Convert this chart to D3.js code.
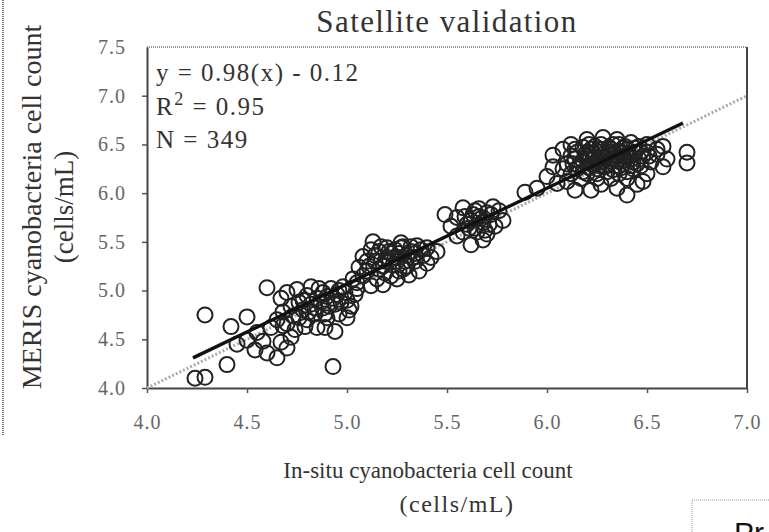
<!DOCTYPE html>
<html>
<head>
<meta charset="utf-8">
<script src="https://cdn.jsdelivr.net/npm/d3@7"></script>
<style>
	body { margin: 0; background: #fff; }
	text { font-family: "Liberation Serif", "Times New Roman", serif; }
</style>
</head>
<body>
<div id="chart"></div>
<script>
// Tick values
const xTicks = [4.0, 4.5, 5.0, 5.5, 6.0, 6.5, 7.0];
const yTicks = [4.0, 4.5, 5.0, 5.5, 6.0, 6.5, 7.0, 7.5];

// Points, one array per cluster: [in-situ, MERIS]
const lowCluster = [
	[4.29, 4.75], [4.24, 4.10], [4.29, 4.11], [4.40, 4.24], [4.42, 4.63], [4.50, 4.73],
	[4.60, 5.03], [4.67, 4.92], [4.67, 4.47], [4.70, 4.41], [4.60, 4.36], [4.65, 4.31],
	[4.54, 4.39], [4.50, 4.49], [4.93, 4.22], [4.79, 4.63], [4.89, 4.62], [4.94, 4.58],
	[5.01, 4.80], [4.75, 5.01], [4.76, 4.88], [4.45, 4.45], [4.55, 4.57], [4.58, 4.48],
	[4.62, 4.62], [4.65, 4.70], [4.68, 4.78], [4.70, 4.66], [4.72, 4.84], [4.74, 4.60],
	[4.76, 4.72], [4.78, 4.80], [4.80, 4.70], [4.80, 4.95], [4.82, 4.86], [4.84, 4.76],
	[4.85, 4.92], [4.86, 5.02], [4.88, 4.82], [4.90, 4.94], [4.90, 4.72], [4.92, 5.02],
	[4.94, 4.86], [4.95, 4.96], [4.96, 4.76], [4.98, 5.04], [5.00, 4.90], [5.00, 4.72],
	[5.02, 4.84], [5.04, 4.96], [4.72, 4.52], [4.85, 4.62], [4.82, 5.04], [4.70, 4.98],
	[5.05, 5.08], [4.88, 4.98], [4.84, 4.82], [4.87, 4.88], [4.91, 4.84], [4.93, 4.92],
	[4.97, 4.88], [4.99, 4.98], [4.81, 4.78], [4.78, 4.90], [4.73, 4.74], [4.68, 4.64],
	[4.96, 5.00], [4.89, 4.76]
];
const midCluster = [
	[5.06, 5.24], [5.13, 5.50], [5.27, 5.49], [5.20, 5.44], [5.40, 5.28], [5.45, 5.40],
	[5.08, 5.35], [5.10, 5.20], [5.12, 5.42], [5.14, 5.30], [5.15, 5.12], [5.16, 5.40],
	[5.18, 5.25], [5.20, 5.34], [5.22, 5.15], [5.24, 5.42], [5.25, 5.30], [5.26, 5.20],
	[5.28, 5.45], [5.30, 5.36], [5.30, 5.25], [5.32, 5.40], [5.34, 5.30], [5.35, 5.46],
	[5.36, 5.20], [5.38, 5.36], [5.40, 5.44], [5.12, 5.05], [5.05, 5.02], [5.03, 5.12],
	[5.08, 5.15], [5.18, 5.06], [5.22, 5.38], [5.10, 5.30], [5.16, 5.22], [5.42, 5.34],
	[5.25, 5.12], [5.31, 5.16], [5.34, 5.38], [5.28, 5.22], [5.14, 5.36], [5.17, 5.45],
	[5.19, 5.30], [5.21, 5.40], [5.23, 5.26], [5.26, 5.38], [5.29, 5.30], [5.32, 5.45],
	[5.33, 5.34], [5.37, 5.42], [5.11, 5.25], [5.19, 5.18], [5.27, 5.44], [5.24, 5.34]
];
const upperCluster = [
	[5.49, 5.78], [5.62, 5.47], [5.68, 5.52], [5.73, 5.86], [5.58, 5.85], [5.52, 5.66],
	[5.55, 5.75], [5.55, 5.56], [5.60, 5.68], [5.63, 5.78], [5.65, 5.60], [5.66, 5.84],
	[5.68, 5.70], [5.70, 5.58], [5.72, 5.78], [5.74, 5.66], [5.76, 5.82], [5.58, 5.60],
	[5.62, 5.72], [5.70, 5.80], [5.78, 5.72], [5.64, 5.64], [5.66, 5.76], [5.61, 5.64],
	[5.67, 5.74], [5.71, 5.68], [5.64, 5.82], [5.69, 5.62], [5.59, 5.76]
];
const topCluster = [
	[5.89, 6.01], [6.00, 6.17], [6.03, 6.27], [6.03, 6.39], [6.14, 6.03], [6.22, 6.03],
	[6.27, 6.09], [6.40, 5.98], [6.45, 6.09], [6.58, 6.48], [6.58, 6.27], [6.28, 6.57],
	[6.70, 6.42], [6.70, 6.31], [6.08, 6.45], [6.12, 6.50], [6.20, 6.55], [6.35, 6.55],
	[6.42, 6.52], [6.50, 6.50], [6.55, 6.40], [6.60, 6.35], [6.50, 6.20], [6.48, 6.12],
	[6.35, 6.05], [6.32, 6.15], [6.05, 6.10], [6.10, 6.30], [6.12, 6.38], [6.15, 6.25],
	[6.15, 6.42], [6.18, 6.33], [6.18, 6.47], [6.20, 6.20], [6.20, 6.38], [6.22, 6.30],
	[6.22, 6.45], [6.24, 6.36], [6.25, 6.25], [6.26, 6.42], [6.27, 6.50], [6.28, 6.32],
	[6.30, 6.40], [6.30, 6.22], [6.31, 6.47], [6.33, 6.35], [6.34, 6.28], [6.35, 6.43],
	[6.36, 6.50], [6.38, 6.38], [6.38, 6.30], [6.40, 6.45], [6.40, 6.22], [6.42, 6.35],
	[6.44, 6.42], [6.45, 6.30], [6.46, 6.48], [6.48, 6.38], [6.50, 6.42], [6.52, 6.32],
	[6.12, 6.20], [6.17, 6.15], [6.25, 6.15], [6.28, 6.40], [6.32, 6.42], [6.36, 6.20],
	[6.40, 6.15], [6.43, 6.25], [6.26, 6.35], [6.20, 6.42], [6.14, 6.35], [6.30, 6.30],
	[6.34, 6.40], [6.24, 6.48], [6.38, 6.46], [6.46, 6.35], [6.08, 6.25], [6.10, 6.12],
	[6.55, 6.45], [5.95, 6.05], [6.16, 6.28], [6.19, 6.40], [6.21, 6.26], [6.23, 6.41],
	[6.25, 6.33], [6.27, 6.45], [6.29, 6.27], [6.29, 6.36], [6.32, 6.45], [6.33, 6.24],
	[6.35, 6.33], [6.37, 6.42], [6.39, 6.34], [6.41, 6.40], [6.43, 6.32], [6.44, 6.46],
	[6.47, 6.42], [6.21, 6.50], [6.25, 6.20], [6.33, 6.50], [6.37, 6.26], [6.42, 6.28],
	[6.18, 6.22], [6.14, 6.45], [6.23, 6.36], [6.31, 6.33], [6.39, 6.48], [6.47, 6.28],
	[6.51, 6.38], [6.26, 6.28], [6.13, 6.30], [6.35, 6.38]
];

// Fitted line end points and the 1:1 line
const fitX = [4.23, 6.68];
const fitY = [4.31, 6.72];
const oneToOne = [4.0, 7.0];

const statLines = ['y = 0.98(x) - 0.12', 'R', 'N = 349'];

const width = 769;
const height = 532;
const margin = { top: 47, left: 147, right: 22, bottom: 144 };

const xScale = d3.scaleLinear()
	.domain([4, 7])
	.range([margin.left, width - margin.right]);

const yScale = d3.scaleLinear()
	.domain([4, 7.5])
	.range([height - margin.bottom, margin.top]);

const svg = d3.select('#chart')
	.append('svg')
	.attr('width', width)
	.attr('height', height);

// Page edge line on the left
svg.append('line')
	.attr('x1', 3).attr('x2', 3)
	.attr('y1', 0).attr('y2', 436)
	.attr('stroke', '#777')
	.attr('stroke-width', 2)
	.attr('stroke-dasharray', '1,1');

// Title
svg.append('text')
	.attr('x', 447)
	.attr('y', 32)
	.attr('text-anchor', 'middle')
	.style('font-size', '31px')
	.style('letter-spacing', '1.4px')
	.attr('fill', '#333')
	.text('Satellite validation');

// Top and right frame
svg.append('line')
	.attr('x1', xScale(4)).attr('x2', xScale(7))
	.attr('y1', yScale(7.5)).attr('y2', yScale(7.5))
	.attr('stroke', '#999')
	.attr('stroke-width', 2)
	.attr('stroke-dasharray', '1,1');
svg.append('line')
	.attr('x1', xScale(7)).attr('x2', xScale(7))
	.attr('y1', yScale(7.5)).attr('y2', yScale(4))
	.attr('stroke', '#444')
	.attr('stroke-width', 2);

// Axes
const xAxis = d3.axisBottom(xScale)
	.tickValues(xTicks)
	.tickSize(5)
	.tickSizeOuter(0)
	.tickPadding(22)
	.tickFormat(d3.format('.1f'));

const yAxis = d3.axisLeft(yScale)
	.tickValues(yTicks)
	.tickSize(5)
	.tickSizeOuter(0)
	.tickPadding(16)
	.tickFormat(d3.format('.1f'));

const gx = svg.append('g')
	.attr('transform', `translate(0, ${yScale(4)})`)
	.call(xAxis);
const gy = svg.append('g')
	.attr('transform', `translate(${xScale(4)}, 0)`)
	.call(yAxis);

[gx, gy].forEach(g => {
	g.select('.domain').attr('stroke', '#444').attr('stroke-width', 2);
	g.selectAll('.tick line').attr('stroke', '#555').attr('stroke-width', 1.5);
	g.selectAll('.tick text')
		.attr('fill', '#666')
		.style('font-size', '20px')
		.style('letter-spacing', '1px')
		.style('font-family', '"Liberation Serif", serif');
});
gy.selectAll('.tick').filter(d => d === 7.5).select('line').remove();

// 1:1 line
svg.append('line')
	.attr('x1', xScale(oneToOne[0])).attr('y1', yScale(oneToOne[0]))
	.attr('x2', xScale(oneToOne[1])).attr('y2', yScale(oneToOne[1]))
	.attr('stroke', '#aaa')
	.attr('stroke-width', 3)
	.attr('stroke-dasharray', '2,2');

// Points
const allPoints = lowCluster.concat(midCluster, upperCluster, topCluster);
svg.append('g')
	.selectAll('circle')
	.data(allPoints)
	.enter()
	.append('circle')
	.attr('cx', d => xScale(d[0]))
	.attr('cy', d => yScale(d[1]))
	.attr('r', 7.5)
	.attr('fill', 'none')
	.attr('stroke', '#222')
	.attr('stroke-width', 2);

// Fitted line
svg.append('line')
	.attr('x1', xScale(fitX[0])).attr('y1', yScale(fitY[0]))
	.attr('x2', xScale(fitX[1])).attr('y2', yScale(fitY[1]))
	.attr('stroke', '#111')
	.attr('stroke-width', 3.5);

// Stats box text
const stats = svg.append('g')
	.attr('fill', '#333')
	.style('font-size', '25px')
	.style('letter-spacing', '1.5px');
stats.append('text').attr('x', 156).attr('y', 81).text(statLines[0]);
const r2 = stats.append('text').attr('x', 156).attr('y', 115);
r2.append('tspan').text(statLines[1]);
r2.append('tspan').attr('dy', -10).style('font-size', '18px').text('2');
r2.append('tspan').attr('dy', 10).text(' = 0.95');
stats.append('text').attr('x', 156).attr('y', 148).text(statLines[2]);

// Axis titles
svg.append('text')
	.attr('x', 428).attr('y', 478)
	.attr('text-anchor', 'middle')
	.attr('fill', '#333')
	.style('font-size', '23px')
	.text('In-situ cyanobacteria cell count');
svg.append('text')
	.attr('x', 457).attr('y', 512)
	.attr('text-anchor', 'middle')
	.attr('fill', '#333')
	.style('font-size', '24px')
	.style('letter-spacing', '1.5px')
	.text('(cells/mL)');

svg.append('text')
	.attr('transform', 'translate(41, 207) rotate(-90)')
	.attr('text-anchor', 'middle')
	.attr('fill', '#333')
	.style('font-size', '28px')
	.text('MERIS cyanobacteria cell count');
svg.append('text')
	.attr('transform', 'translate(73, 207) rotate(-90)')
	.attr('text-anchor', 'middle')
	.attr('fill', '#333')
	.style('font-size', '27px')
	.text('(cells/mL)');

// Clipped box at the bottom right
svg.append('rect')
	.attr('x', 692).attr('y', 500)
	.attr('width', 120).attr('height', 80)
	.attr('fill', 'none')
	.attr('stroke', '#999')
	.attr('stroke-dasharray', '1,1');
svg.append('text')
	.attr('x', 734).attr('y', 543)
	.attr('fill', '#111')
	.style('font-family', '"Liberation Sans", Arial, sans-serif')
	.style('font-size', '30px')
	.text('Pr');
</script>
</body>
</html>
